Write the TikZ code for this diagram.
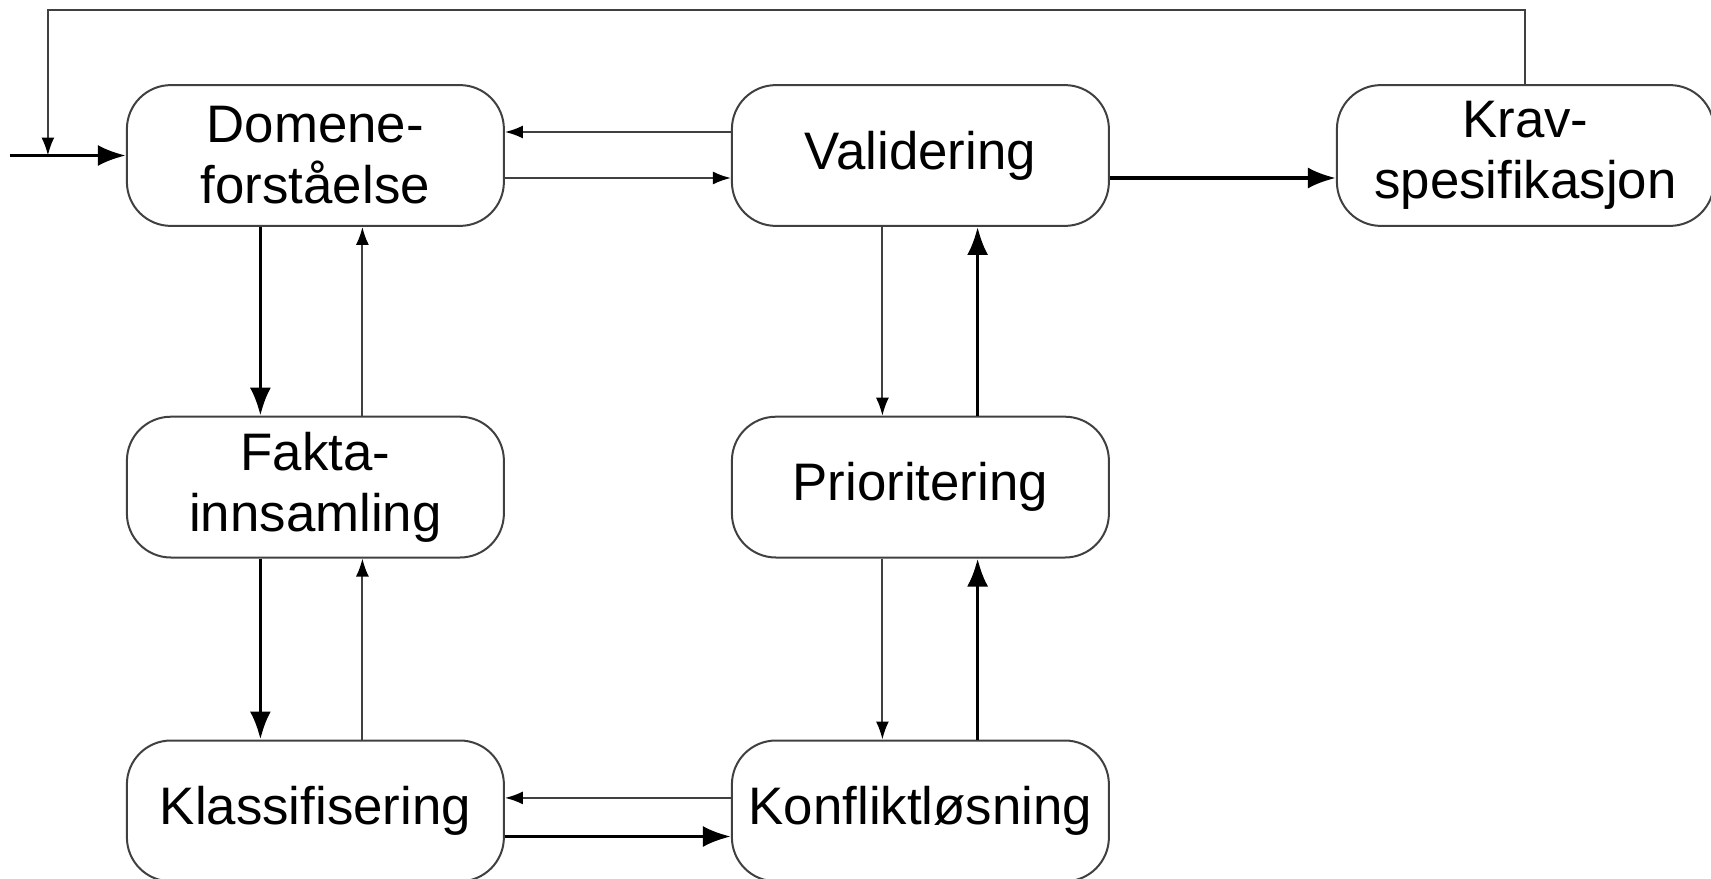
\documentclass[tikz,border=0pt]{standalone}
\usepackage{fontspec}
\setmainfont{Liberation Sans}
\usetikzlibrary{shapes,arrows.meta,positioning}
\tikzstyle{block} = [rectangle, draw=black!75, line width=1pt, rounded corners=22pt, text centered, align=center, minimum width=188.5pt, minimum height=70.4pt, font=\fontsize{26.4}{30.5}\selectfont]
\tikzstyle{line} = [draw=black!75, line width=1pt, -{Latex[length=9pt,width=6.5pt,black]}]
\tikzstyle{strong} = [draw=black, line width=1.8pt, -{Latex[length=14pt,width=10.5pt]}]

\begin{document}
\begin{tikzpicture}
	\useasboundingbox (-157.7pt,77.75pt) rectangle (697.8pt,-361.25pt);

	\node[block] (domene) {Domene-\\forståelse};
	\node[block, right=113pt of domene] (validering) {Validering};
	\node[block, right=113pt of validering] (krav) {Krav-\\spesifikasjon};

	\node[block, below=94.4pt of domene] (fakta) {Fakta-\\innsamling};
	\node[block, below=94.4pt of validering] (prioritering) {Prioritering};

	\node[block, below=90.5pt of fakta] (klassifisering) {Klassifisering};
	\node[block, below=90.5pt of prioritering] (konflikt) {Konfliktløsning};

	\coordinate[left=58pt of domene] (start);
	\coordinate[left=39pt of domene] (join);

	\path [strong] (start) -- (domene.west);
	\path [line] (krav.north) -- ++(0,37.1pt) -| (join);

	\path [line] ([yshift=11.75pt]validering.west) -- ([yshift=11.75pt]domene.east);
	\path [line] ([yshift=-11.25pt]domene.east) -- ([yshift=-11.25pt]validering.west);
	\path [strong] ([yshift=-11.25pt]validering.east) -- ([yshift=-11.25pt]krav.west);

	\path [strong] ([xshift=-27.5pt]domene.south) -- ([xshift=-27.5pt]fakta.north);
	\path [line] ([xshift=23.5pt]fakta.north) -- ([xshift=23.5pt]domene.south);
	\path [strong] ([xshift=-27.5pt]fakta.south) -- ([xshift=-27.5pt]klassifisering.north);
	\path [line] ([xshift=23.5pt]klassifisering.north) -- ([xshift=23.5pt]fakta.south);

	\path [line] ([xshift=-19pt]validering.south) -- ([xshift=-19pt]prioritering.north);
	\path [strong] ([xshift=28.6pt]prioritering.north) -- ([xshift=28.6pt]validering.south);
	\path [line] ([xshift=-19pt]prioritering.south) -- ([xshift=-19pt]konflikt.north);
	\path [strong] ([xshift=28.6pt]konflikt.north) -- ([xshift=28.6pt]prioritering.south);

	\path [line] ([yshift=6.5pt]konflikt.west) -- ([yshift=6.5pt]klassifisering.east);
	\path [strong] ([yshift=-12.8pt]klassifisering.east) -- ([yshift=-12.8pt]konflikt.west);
\end{tikzpicture}
\end{document}
